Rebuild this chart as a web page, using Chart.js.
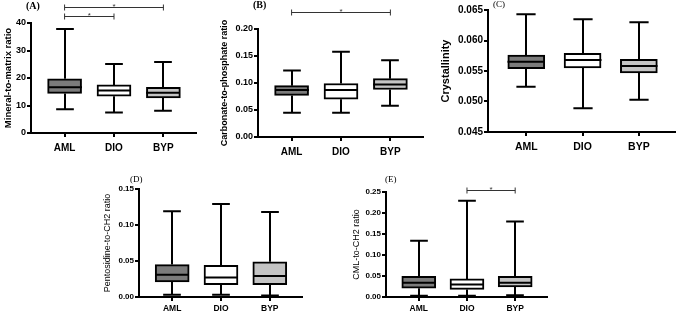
<!DOCTYPE html>
<html>
<head>
<meta charset="utf-8">
<script src="https://cdn.jsdelivr.net/npm/chart.js@4"></script>
<style>
  body { margin: 0; background: #fff; }
  #wrap { position: relative; width: 676px; height: 317px; overflow: hidden; background: #fff; }
  canvas { position: absolute; }
</style>
</head>
<body>
<div id="wrap">
  <canvas id="chartA" width="200" height="160" style="left:0px;top:0px"></canvas>
  <canvas id="chartB" width="213" height="165" style="left:215px;top:0px"></canvas>
  <canvas id="chartC" width="240" height="160" style="left:436px;top:0px"></canvas>
  <canvas id="chartD" width="210" height="152" style="left:100px;top:165px"></canvas>
  <canvas id="chartE" width="205" height="152" style="left:350px;top:165px"></canvas>
</div>
<script>
// kategori
const categories = ['AML', 'DIO', 'BYP'];
const boxColors = ['#7b7b7b', '#ffffff', '#c4c4c4'];

// ringkasan lima angka per kelompok: [min, Q1, median, Q3, max]
const mineralToMatrix = [[8.6, 14.4, 16.6, 19.7, 37.8], [7.5, 13.4, 15.5, 17.5, 25.1], [8.1, 12.8, 14.6, 16.6, 25.8]];
const carbonateToPhosphate = [[0.045, 0.077, 0.087, 0.095, 0.123], [0.045, 0.070, 0.087, 0.099, 0.158], [0.058, 0.088, 0.097, 0.108, 0.142]];
const crystallinity = [[0.0524, 0.0554, 0.0565, 0.0576, 0.0643], [0.0489, 0.0555, 0.0568, 0.0579, 0.0635], [0.0503, 0.0547, 0.0558, 0.0569, 0.0630]];
const pentosidine = [[0.003, 0.021, 0.031, 0.045, 0.119], [0.003, 0.017, 0.027, 0.044, 0.129], [0.002, 0.017, 0.029, 0.049, 0.118]];
const cml = [[0.003, 0.021, 0.034, 0.049, 0.134], [0.003, 0.018, 0.030, 0.043, 0.229], [0.004, 0.024, 0.034, 0.049, 0.180]];

// label sumbu y
const mineralTicks = [0, 10, 20, 30, 40];
const carbonateTicks = [0, 0.05, 0.10, 0.15, 0.20];
const crystallinityTicks = [0.045, 0.050, 0.055, 0.060, 0.065];
const pentosidineTicks = [0, 0.05, 0.10, 0.15];
const cmlTicks = [0, 0.05, 0.10, 0.15, 0.20, 0.25];

// pasangan yang signifikan (indeks kategori)
const mineralSig = [[0, 2], [0, 1]];
const carbonateSig = [[0, 2]];
const cmlSig = [[1, 2]];

const sans = "'Liberation Sans', Arial, sans-serif";

// whisker, median, tanda signifikan, dan label panel
const boxPlugin = {
  id: 'boxExtras',
  afterDatasetsDraw(chart, args, opts) {
    const { ctx, scales: { x, y } } = chart;
    const bars = chart.getDatasetMeta(0).data;
    ctx.save();
    ctx.strokeStyle = '#000';
    ctx.lineWidth = 2;
    opts.stats.forEach((s, i) => {
      const cx = Math.round(x.getPixelForValue(i));
      const half = bars[i].width / 2;
      const cap = half * 0.52;
      const pMin = y.getPixelForValue(s[0]);
      const pQ1 = y.getPixelForValue(s[1]);
      const pMed = y.getPixelForValue(s[2]);
      const pQ3 = y.getPixelForValue(s[3]);
      const pMax = y.getPixelForValue(s[4]);
      ctx.beginPath();
      ctx.moveTo(cx, pQ1); ctx.lineTo(cx, pMin);
      ctx.moveTo(cx - cap, pMin); ctx.lineTo(cx + cap, pMin);
      ctx.moveTo(cx, pQ3); ctx.lineTo(cx, pMax);
      ctx.moveTo(cx - cap, pMax); ctx.lineTo(cx + cap, pMax);
      ctx.moveTo(cx - half, pMed); ctx.lineTo(cx + half, pMed);
      ctx.stroke();
    });
    ctx.restore();
  },
  afterDraw(chart, args, opts) {
    const { ctx, chartArea, scales: { x } } = chart;
    ctx.save();
    ctx.strokeStyle = '#333';
    ctx.fillStyle = '#333';
    ctx.lineWidth = 1;
    ctx.textAlign = 'center';
    ctx.textBaseline = 'bottom';
    ctx.font = "8px " + sans;
    (opts.sig || []).forEach((pair, k) => {
      const yy = Math.round(chartArea.top + opts.sigY[k]) + 0.5;
      const x0 = x.getPixelForValue(pair[0]);
      const x1 = x.getPixelForValue(pair[1]);
      ctx.beginPath();
      ctx.moveTo(x0, yy); ctx.lineTo(x1, yy);
      ctx.moveTo(x0, yy - 3); ctx.lineTo(x0, yy + 3);
      ctx.moveTo(x1, yy - 3); ctx.lineTo(x1, yy + 3);
      ctx.stroke();
      ctx.fillText('*', (x0 + x1) / 2, yy + 3);
    });
    ctx.fillStyle = '#000';
    ctx.textAlign = 'left';
    ctx.textBaseline = 'middle';
    ctx.font = opts.labelFont;
    ctx.fillText(opts.label, chartArea.left + opts.labelPos[0], chartArea.top + opts.labelPos[1]);
    ctx.restore();
  }
};

function boxChart(id, stats, ticks, decimals, c) {
  new Chart(document.getElementById(id), {
    type: 'bar',
    data: {
      datasets: [{
        data: stats.map((s, i) => ({ x: i, y: [s[1], s[3]] })),
        backgroundColor: boxColors,
        borderColor: '#000',
        borderWidth: 2,
        borderSkipped: false,
        barThickness: c.boxWidth
      }]
    },
    options: {
      responsive: false,
      animation: false,
      layout: { padding: c.padding },
      plugins: {
        legend: { display: false },
        tooltip: { enabled: false },
        boxExtras: { stats: stats, sig: c.sig, sigY: c.sigY, label: c.label, labelPos: c.labelPos,
          labelFont: c.labelFont || "bold 10px 'Liberation Serif', serif" }
      },
      scales: {
        x: {
          type: 'linear',
          offset: false,
          min: -0.68,
          max: 2.66,
          afterBuildTicks: s => { s.ticks = categories.map((cat, i) => ({ value: i })); },
          afterFit: s => { s.height = c.xHeight; },
          ticks: {
            callback: v => categories[v],
            color: '#000',
            font: { family: sans, size: c.xFont, weight: 'bold' },
            padding: c.xPad,
            maxRotation: 0,
            autoSkip: false
          },
          grid: { offset: false, drawOnChartArea: false, drawTicks: true, tickLength: 4, color: '#000', lineWidth: 2 },
          border: { color: '#000', width: 2 }
        },
        y: {
          min: ticks[0],
          max: ticks[ticks.length - 1],
          afterBuildTicks: s => { s.ticks = ticks.map(v => ({ value: v })); },
          afterFit: s => { s.width = c.yWidth; },
          ticks: {
            callback: v => v.toFixed(decimals),
            color: '#000',
            font: { family: sans, size: c.yFont, weight: 'bold' },
            padding: 1
          },
          grid: { drawOnChartArea: false, drawTicks: true, tickLength: 4, color: '#000', lineWidth: 2 },
          border: { color: '#000', width: 2 },
          title: {
            display: true,
            text: c.title,
            color: '#000',
            font: { family: sans, size: c.titleFont, weight: c.titleWeight || 'bold' },
            padding: 0
          }
        }
      }
    },
    plugins: [boxPlugin]
  });
}

boxChart('chartA', mineralToMatrix, mineralTicks, 0, {
  padding: { left: 3, top: 23, right: 4, bottom: 0 }, yWidth: 28, xHeight: 27,
  boxWidth: 34, xFont: 10, yFont: 9, xPad: 5, title: 'Mineral-to-matrix ratio', titleFont: 9.5,
  sig: mineralSig, sigY: [-16, -7], label: '(A)', labelPos: [-5, -17]
});
boxChart('chartB', carbonateToPhosphate, carbonateTicks, 2, {
  padding: { left: 4, top: 29, right: 5, bottom: 0 }, yWidth: 39, xHeight: 28,
  boxWidth: 34, xFont: 10, yFont: 9, xPad: 5, title: 'Carbonate-to-phosphate ratio', titleFont: 9,
  sig: carbonateSig, sigY: [-17], label: '(B)', labelPos: [-5, -24]
});
boxChart('chartC', crystallinity, crystallinityTicks, 3, {
  padding: { left: 3, top: 10, right: 0, bottom: 0 }, yWidth: 49, xHeight: 28,
  boxWidth: 37, xFont: 10.5, yFont: 10, xPad: 5, title: 'Crystallinity', titleFont: 11,
  sig: [], sigY: [], label: '(C)', labelPos: [5, -5], labelFont: "9px 'Liberation Serif', serif"
});
boxChart('chartD', pentosidine, pentosidineTicks, 2, {
  padding: { left: 2, top: 24, right: 8, bottom: 0 }, yWidth: 37, xHeight: 20,
  boxWidth: 34, xFont: 8.5, yFont: 8, xPad: 3, title: 'Pentosidine-to-CH2 ratio', titleFont: 9, titleWeight: 'normal',
  sig: [], sigY: [], label: '(D)', labelPos: [-9, -9], labelFont: "9px 'Liberation Serif', serif"
});
boxChart('chartE', cml, cmlTicks, 2, {
  padding: { left: 1, top: 27, right: 8, bottom: 0 }, yWidth: 35, xHeight: 20,
  boxWidth: 34, xFont: 8.5, yFont: 8, xPad: 3, title: 'CML-to-CH2 ratio', titleFont: 9, titleWeight: 'normal',
  sig: cmlSig, sigY: [-2], label: '(E)', labelPos: [-1, -12], labelFont: "9px 'Liberation Serif', serif"
});
</script>
</body>
</html>
